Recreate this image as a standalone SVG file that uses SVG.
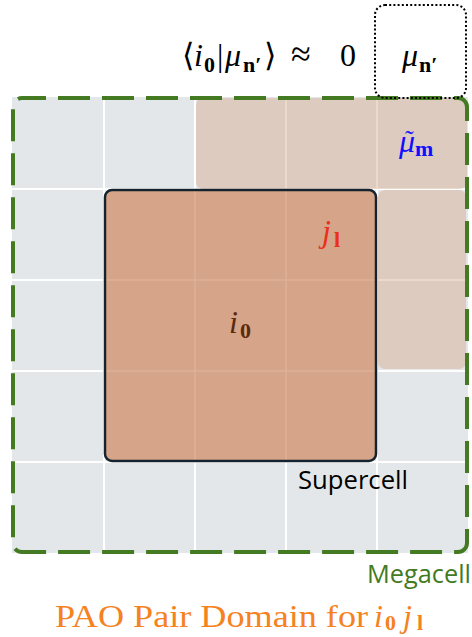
<svg xmlns="http://www.w3.org/2000/svg" width="472" height="637" viewBox="0 0 472 637">
<style>
.m{font-family:"Liberation Serif","Times New Roman",serif;font-size:32px}
.it{font-style:italic}
.sb{font-family:"Liberation Serif","Times New Roman",serif;font-weight:bold;font-style:normal;font-size:22px}
.rm{font-style:normal}
.sans{font-family:"Open Sans","Liberation Sans",sans-serif;font-size:25px}
.grid{stroke:#ffffff;stroke-width:2}
.sgrid{stroke:#dcb19a;stroke-width:1.5}
</style>
<rect width="472" height="637" fill="#ffffff"/>
<g id="megacell">
<rect x="12" y="97" width="456" height="456" fill="#e4e7ea"/>
<g class="grid">
<line x1="104" y1="97" x2="104" y2="553"/>
<line x1="195" y1="97" x2="195" y2="553"/>
<line x1="286" y1="97" x2="286" y2="553"/>
<line x1="377" y1="97" x2="377" y2="553"/>
<line x1="12" y1="189" x2="468" y2="189"/>
<line x1="12" y1="280" x2="468" y2="280"/>
<line x1="12" y1="371" x2="468" y2="371"/>
<line x1="12" y1="462" x2="468" y2="462"/>
</g>
</g>
<g id="mu-tilde-domain" fill="#d8a88f" fill-opacity="0.45">
<rect x="196" y="98" width="271" height="91" rx="7"/>
<rect x="378" y="190" width="88" height="179" rx="7"/>
</g>
<g id="supercell">
<rect x="105" y="190" width="271" height="271" rx="7" fill="#d6a489"/>
<g class="sgrid">
<line x1="195" y1="191" x2="195" y2="460"/>
<line x1="286" y1="191" x2="286" y2="460"/>
<line x1="106" y1="280" x2="375" y2="280"/>
<line x1="106" y1="371" x2="375" y2="371"/>
</g>
<rect x="105" y="190" width="271" height="271" rx="7" fill="none" stroke="#14232d" stroke-width="2.5"/>
<text class="sans" x="298" y="489" fill="#000000" textLength="110" lengthAdjust="spacingAndGlyphs">Supercell</text>
</g>
<g id="megacell-border">
<rect x="13" y="98" width="454" height="454" rx="9" fill="none" stroke="#437a22" stroke-width="4" stroke-dasharray="32 12" stroke-dashoffset="8"/>
<text class="sans" x="367" y="583" fill="#437a22" textLength="104" lengthAdjust="spacingAndGlyphs">Megacell</text>
</g>
<g id="mu-n-box">
<rect x="375" y="5" width="91" height="93" rx="10" fill="none" stroke="#000000" stroke-width="2" stroke-dasharray="2 2.2"/>
<text class="m it" x="402" y="66">μ<tspan class="sb" x="419" y="72">n′</tspan></text>
</g>
<g id="overlap-formula" fill="#000000">
<text class="m"><tspan x="182" y="66">⟨</tspan><tspan class="it" x="194" y="66">i</tspan><tspan class="sb" x="204" y="72">0</tspan><tspan x="217" y="66">|</tspan><tspan class="it" x="225" y="66">μ</tspan><tspan class="sb" x="243" y="72">n′</tspan><tspan x="264" y="66">⟩</tspan><tspan x="291" y="66" font-size="36">≈</tspan><tspan x="340" y="66">0</tspan></text>
</g>
<g id="mu-tilde-label" fill="#1010ff">
<text class="m it" x="399" y="152">μ<tspan class="rm" x="405" y="148" font-size="26">˜</tspan><tspan class="sb" x="415" y="156">m</tspan></text>
</g>
<g id="j-label" fill="#e8301c">
<text class="m it" x="322" y="242">j<tspan class="sb" x="334" y="247">l</tspan></text>
</g>
<g id="i-label" fill="#5c2a0e">
<text class="m it" x="229" y="333">i<tspan class="sb" x="240" y="338">0</tspan></text>
</g>
<g id="title" fill="#f5821f">
<text class="m" x="55" y="627" font-size="35" textLength="313" lengthAdjust="spacingAndGlyphs">PAO Pair Domain for</text>
<text class="m it" x="374" y="627" font-size="33">i<tspan class="sb" x="385" y="630">0</tspan><tspan x="403" y="627">j</tspan><tspan class="sb" x="417" y="630">l</tspan></text>
</g>
</svg>
